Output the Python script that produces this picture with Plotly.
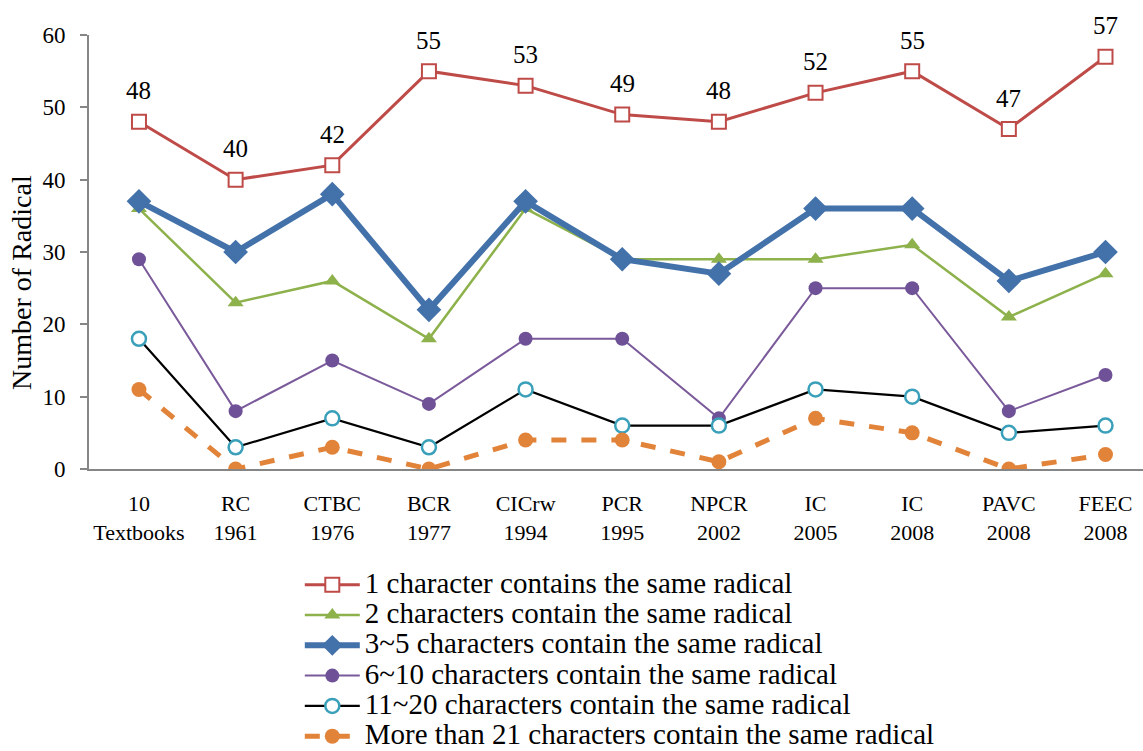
import plotly.graph_objects as go

# Textbook categories along the x-axis (two-line tick labels)
categories = ["10<br>Textbooks", "RC<br>1961", "CTBC<br>1976", "BCR<br>1977", "CICrw<br>1994",
              "PCR<br>1995", "NPCR<br>2002", "IC<br>2005", "IC<br>2008", "PAVC<br>2008", "FEEC<br>2008"]

one_char = [48, 40, 42, 55, 53, 49, 48, 52, 55, 47, 57]
two_chars = [36, 23, 26, 18, 36, 29, 29, 29, 31, 21, 27]
three_to_five = [37, 30, 38, 22, 37, 29, 27, 36, 36, 26, 30]
six_to_ten = [29, 8, 15, 9, 18, 18, 7, 25, 25, 8, 13]
eleven_to_twenty = [18, 3, 7, 3, 11, 6, 6, 11, 10, 5, 6]
more_than_21 = [11, 0, 3, 0, 4, 4, 1, 7, 5, 0, 2]

series_names = [
    "1 character contains the same radical",
    "2 characters contain the same radical",
    "3~5 characters contain the same radical",
    "6~10 characters contain the same radical",
    "11~20 characters contain the same radical",
    "More than 21 characters contain the same radical",
]

x = list(range(len(categories)))
FONT = "Liberation Serif"


def legend_label(name):
    # larger glyphs for the legend text while keeping compact row spacing
    return '<span style="font-size:29px">' + name + "</span>"


fig = go.Figure()

fig.add_trace(go.Scatter(
    x=x, y=one_char, name=legend_label(series_names[0]), mode="lines+markers",
    line=dict(color="#BE4B48", width=3),
    marker=dict(symbol="square", size=14, color="white", line=dict(color="#BE4B48", width=2)),
))
fig.add_trace(go.Scatter(
    x=x, y=two_chars, name=legend_label(series_names[1]), mode="lines+markers",
    line=dict(color="#8DB14B", width=2.5),
    marker=dict(symbol="triangle-up", size=14, color="#8DB14B"),
))
fig.add_trace(go.Scatter(
    x=x, y=three_to_five, name=legend_label(series_names[2]), mode="lines+markers",
    line=dict(color="#4371AA", width=6),
    marker=dict(symbol="diamond", size=19, color="#4371AA"),
))
fig.add_trace(go.Scatter(
    x=x, y=six_to_ten, name=legend_label(series_names[3]), mode="lines+markers",
    line=dict(color="#7A5A9A", width=2),
    marker=dict(symbol="circle", size=14, color="#6E5196"),
))
fig.add_trace(go.Scatter(
    x=x, y=eleven_to_twenty, name=legend_label(series_names[4]), mode="lines+markers",
    line=dict(color="black", width=2.2),
    marker=dict(symbol="circle", size=14, color="white", line=dict(color="#3AA0BA", width=2.5)),
))
fig.add_trace(go.Scatter(
    x=x, y=more_than_21, name=legend_label(series_names[5]), mode="lines+markers",
    line=dict(color="#E2833A", width=5, dash="dash"),
    marker=dict(symbol="circle", size=15, color="#E2833A"),
))

# value labels above the single-character series
annotations = [
    dict(x=xi, y=v, xref="x", yref="y", text=str(v), showarrow=False,
         yanchor="middle", yshift=31, font=dict(family=FONT, size=25, color="black"))
    for xi, v in zip(x, one_char)
]
# y-axis title
annotations.append(dict(
    x=-0.064, y=0.43, xref="paper", yref="paper", text="Number of Radical",
    textangle=-90, showarrow=False, xanchor="center", yanchor="middle",
    font=dict(family=FONT, size=28, color="black"),
))

fig.update_layout(
    width=1143, height=751,
    margin=dict(l=89, r=0, t=35, b=282),
    paper_bgcolor="white", plot_bgcolor="white",
    font=dict(family=FONT, size=22, color="black"),
    showlegend=True,
    legend=dict(
        x=0.2, y=0.2483, xref="paper", yref="container", xanchor="left", yanchor="top",
        font=dict(family=FONT, size=21, color="black"),
        bgcolor="rgba(0,0,0,0)", tracegroupgap=0, itemwidth=55,
    ),
    annotations=annotations,
    xaxis=dict(
        range=[-0.517, 10.388], tickmode="array", tickvals=x, ticktext=categories,
        showline=True, linecolor="#868686", linewidth=2, ticks="",
        showgrid=False, zeroline=False, tickfont=dict(family=FONT, size=22),
        ticklabelstandoff=14,
    ),
    yaxis=dict(
        range=[0, 60], dtick=10, showline=True, linecolor="#868686", linewidth=2,
        ticks="outside", ticklen=7, tickcolor="#868686", tickwidth=2,
        showgrid=False, zeroline=False, tickfont=dict(family=FONT, size=23),
        ticklabelstandoff=10,
    ),
)

fig.write_html("out.html")
